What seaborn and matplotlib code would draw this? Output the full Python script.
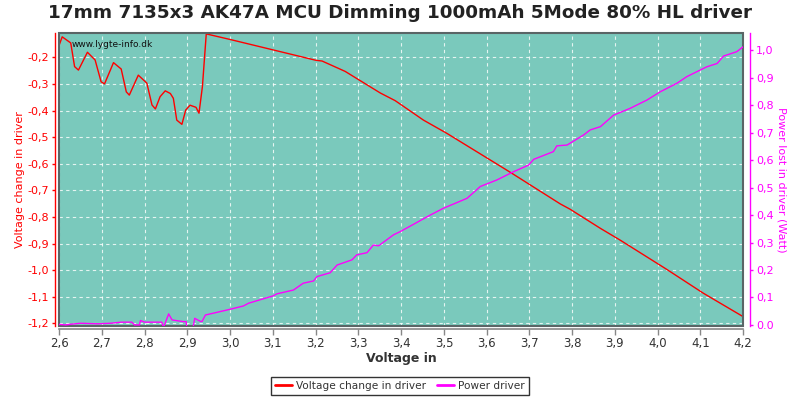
import matplotlib
matplotlib.use("Agg")
import matplotlib.pyplot as plt
import matplotlib.patches as mpatches
from matplotlib.ticker import FuncFormatter, MultipleLocator
from matplotlib.lines import Line2D
import seaborn as sns
import pandas as pd

title = "17mm 7135x3 AK47A MCU Dimming 1000mAh 5Mode 80% HL driver"

volt_x = [2.600, 2.607, 2.627, 2.636, 2.645, 2.666, 2.684, 2.698, 2.706, 2.727,
          2.745, 2.757, 2.764, 2.785, 2.805, 2.817, 2.825, 2.836, 2.848, 2.860,
          2.867, 2.875, 2.887, 2.896, 2.906, 2.920, 2.927, 2.935, 2.944, 3.000,
          3.100, 3.200, 3.215, 3.269, 3.351, 3.386, 3.452, 3.507, 3.655, 3.772,
          3.795, 3.866, 3.912, 4.021, 4.107, 4.200]
volt_change = [-0.154, -0.123, -0.146, -0.235, -0.248, -0.181, -0.210, -0.292, -0.300, -0.220,
               -0.244, -0.330, -0.342, -0.267, -0.297, -0.379, -0.394, -0.348, -0.326, -0.336,
               -0.354, -0.436, -0.452, -0.398, -0.380, -0.388, -0.410, -0.310, -0.112, -0.133,
               -0.172, -0.211, -0.214, -0.253, -0.334, -0.363, -0.436, -0.486, -0.632, -0.751,
               -0.771, -0.843, -0.887, -0.997, -1.087, -1.175]

power_x = [2.600, 2.615, 2.630, 2.650, 2.690, 2.720, 2.745, 2.770, 2.776, 2.788,
           2.790, 2.800, 2.830, 2.840, 2.844, 2.856, 2.864, 2.890, 2.897, 2.899,
           2.912, 2.917, 2.930, 2.934, 2.942, 3.000, 3.031, 3.043, 3.101, 3.109,
           3.148, 3.171, 3.195, 3.203, 3.234, 3.250, 3.285, 3.296, 3.320, 3.335,
           3.347, 3.382, 3.398, 3.433, 3.468, 3.499, 3.522, 3.554, 3.585, 3.624,
           3.663, 3.698, 3.710, 3.756, 3.764, 3.788, 3.827, 3.842, 3.866, 3.897,
           3.936, 3.975, 4.006, 4.045, 4.068, 4.115, 4.139, 4.154, 4.185, 4.200]
power = [0.002, 0.000, 0.003, 0.006, 0.004, 0.006, 0.010, 0.010, 0.000, 0.000,
         0.016, 0.010, 0.010, 0.010, -0.010, 0.040, 0.018, 0.012, 0.012, -0.020,
         -0.020, 0.024, 0.013, 0.012, 0.036, 0.057, 0.069, 0.079, 0.106, 0.113,
         0.127, 0.152, 0.160, 0.176, 0.190, 0.218, 0.237, 0.255, 0.263, 0.291,
         0.288, 0.328, 0.340, 0.370, 0.400, 0.425, 0.440, 0.461, 0.504, 0.528,
         0.558, 0.582, 0.603, 0.631, 0.652, 0.655, 0.692, 0.710, 0.722, 0.764,
         0.789, 0.819, 0.849, 0.880, 0.904, 0.940, 0.952, 0.979, 0.995, 1.013]

df_v = pd.DataFrame({"x": volt_x, "y": volt_change})
df_p = pd.DataFrame({"x": power_x, "y": power})

sns.set_theme(style="white")
plt.rcParams['font.family'] = ['DejaVu Sans']

RED = "#ff0000"
MAG = "#ff00ff"
BG = "#7ac9bc"
FRAME = "#5a6566"

fig = plt.figure(figsize=(8, 4), dpi=100)
fig.patch.set_facecolor("white")
ax = fig.add_axes([0.074, 0.185, 0.855, 0.7325])
ax.set_facecolor(BG)
ax2 = ax.twinx()

sns.lineplot(data=df_v, x="x", y="y", ax=ax, color=RED, lw=1.0, estimator=None, sort=False)
sns.lineplot(data=df_p, x="x", y="y", ax=ax2, color=MAG, lw=1.0, estimator=None, sort=False)

ax.set_xlim(2.6, 4.2)
ax.set_ylim(-1.210, -0.1086)
ax2.set_ylim(-0.004, 1.063)

ax.xaxis.set_major_locator(MultipleLocator(0.1))
ax.yaxis.set_major_locator(MultipleLocator(0.1))
ax2.yaxis.set_major_locator(MultipleLocator(0.1))

def comma(v, pos):
    return f"{v:.1f}".replace(".", ",").replace("-0,0", "0,0")

def right_fmt(v, pos):
    if abs(v) < 1e-9:
        return "0.0"
    return f"{v:.1f}".replace(".", ",")

ax.xaxis.set_major_formatter(FuncFormatter(comma))
ax.yaxis.set_major_formatter(FuncFormatter(comma))
ax2.yaxis.set_major_formatter(FuncFormatter(right_fmt))

ax.grid(True, which="major", color="white", linestyle=(0, (3, 3)), linewidth=0.8, alpha=0.8)
ax.set_axisbelow(True)

for s in ["top", "right"]:
    ax.spines[s].set_visible(False)
for s in ["top", "left", "bottom"]:
    ax2.spines[s].set_visible(False)

# outward offsets are in points (1 pt = 1.39 px at 100 dpi)
ax.spines["left"].set_position(("outward", 2.9))
ax.spines["left"].set_color(RED)
ax.spines["left"].set_linewidth(1.0)
ax.spines["bottom"].set_position(("outward", 2.2))
ax.spines["bottom"].set_color("#888888")
ax.spines["bottom"].set_linewidth(1.2)
ax2.spines["right"].set_position(("outward", 5.2))
ax2.spines["right"].set_color(MAG)
ax2.spines["right"].set_linewidth(1.0)

frame = mpatches.Rectangle((0, 0), 1, 1, transform=ax.transAxes, fill=False,
                           edgecolor=FRAME, linewidth=1.5, zorder=5, clip_on=False)
ax.add_patch(frame)

ax.tick_params(axis="y", colors=RED, labelcolor=RED, labelsize=8, length=2.5, width=1,
               direction="out", left=True, pad=2)
ax.tick_params(axis="x", colors="#888888", labelcolor="#333333", labelsize=8.5, length=4,
               width=1, direction="out", bottom=True, pad=2)
ax2.tick_params(axis="y", colors=MAG, labelcolor=MAG, labelsize=8, length=2.5, width=1,
                direction="out", right=True, pad=1.5)

ax.set_xlabel("Voltage in", fontsize=9, fontweight="bold", color="#333333", labelpad=1)
ax.set_ylabel("Voltage change in driver", fontsize=8, color=RED, va="center")
ax.yaxis.set_label_coords(-0.0573, 0.5)
ax2.set_ylabel("Power lost in driver (Watt)", fontsize=8, color=MAG, rotation=270, va="center")
ax2.yaxis.set_label_coords(1.056, 0.5)

fig.suptitle(title, fontsize=13.2, fontweight="bold", y=0.99, color="#222222")

ax.text(0.018, 0.975, "www.lygte-info.dk", transform=ax.transAxes, fontsize=6.5,
        color="#111111", va="top", ha="left", zorder=6)

handles = [Line2D([0], [0], color=RED, lw=2), Line2D([0], [0], color=MAG, lw=2)]
leg = fig.legend(handles, ["Voltage change in driver", "Power driver"], loc="center",
                 bbox_to_anchor=(0.5, 0.035), ncol=2, fontsize=7.6, frameon=True,
                 fancybox=False, handlelength=1.6, handletextpad=0.4, columnspacing=1.0,
                 borderpad=0.4)
leg.get_frame().set_edgecolor("black")
leg.get_frame().set_linewidth(1.0)
for t in leg.get_texts():
    t.set_color("#333333")

fig.savefig("out.png", dpi=100)
